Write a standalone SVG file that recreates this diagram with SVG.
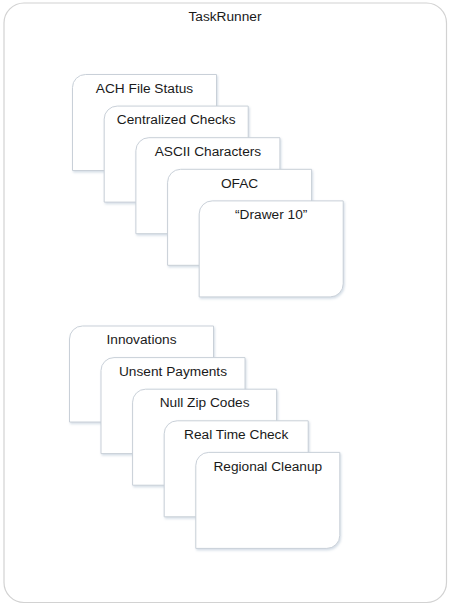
<svg xmlns="http://www.w3.org/2000/svg" width="452" height="609" viewBox="0 0 452 609">
<style>
.frame{fill:#fff;stroke:#d2d2d2;stroke-width:1.2}
.card{fill:#fff;stroke:#c9d0d8;stroke-width:1;filter:url(#sh)}
.t{font-family:"Liberation Sans",Arial,sans-serif;font-size:13.7px;fill:#1a1a1a;text-anchor:middle}
</style>
<defs>
<filter id="sh" x="-10%" y="-10%" width="125%" height="125%">
<feDropShadow dx="1" dy="1.5" stdDeviation="1" flood-color="#9fb3c8" flood-opacity="0.45"/>
</filter>
<path id="cardshape" d="M13,0 H144 V83 A13,13 0 0 1 131,96 H0 V13 A13,13 0 0 1 13,0 Z"/>
</defs>
<rect width="452" height="609" fill="#fff"/>
<g id="taskrunner">
<rect class="frame" x="4" y="3" width="442.5" height="599.5" rx="20" ry="20"/>
<text class="t" x="225" y="21">TaskRunner</text>
</g>
<g id="connectors"/>
<g id="ach-file-status" transform="translate(72.5,74.5)">
<use href="#cardshape" class="card"/>
<text class="t" x="72" y="18.3">ACH File Status</text>
</g>
<g id="centralized-checks" transform="translate(104.2,106.1)">
<use href="#cardshape" class="card"/>
<text class="t" x="72" y="18.3">Centralized Checks</text>
</g>
<g id="ascii-characters" transform="translate(135.9,137.7)">
<use href="#cardshape" class="card"/>
<text class="t" x="72" y="18.3">ASCII Characters</text>
</g>
<g id="ofac" transform="translate(167.6,169.3)">
<use href="#cardshape" class="card"/>
<text class="t" x="72" y="18.3">OFAC</text>
</g>
<g id="drawer-10" transform="translate(199.2,200.9)">
<use href="#cardshape" class="card"/>
<text class="t" x="72" y="18.3">“Drawer 10”</text>
</g>
<g id="innovations" transform="translate(69.5,326)">
<use href="#cardshape" class="card"/>
<text class="t" x="72" y="18.3">Innovations</text>
</g>
<g id="unsent-payments" transform="translate(101,357.6)">
<use href="#cardshape" class="card"/>
<text class="t" x="72" y="18.3">Unsent Payments</text>
</g>
<g id="null-zip-codes" transform="translate(132.6,389.2)">
<use href="#cardshape" class="card"/>
<text class="t" x="72" y="18.3">Null Zip Codes</text>
</g>
<g id="real-time-check" transform="translate(164.2,420.8)">
<use href="#cardshape" class="card"/>
<text class="t" x="72" y="18.3">Real Time Check</text>
</g>
<g id="regional-cleanup" transform="translate(195.8,452.4)">
<use href="#cardshape" class="card"/>
<text class="t" x="72" y="18.3">Regional Cleanup</text>
</g>
</svg>
